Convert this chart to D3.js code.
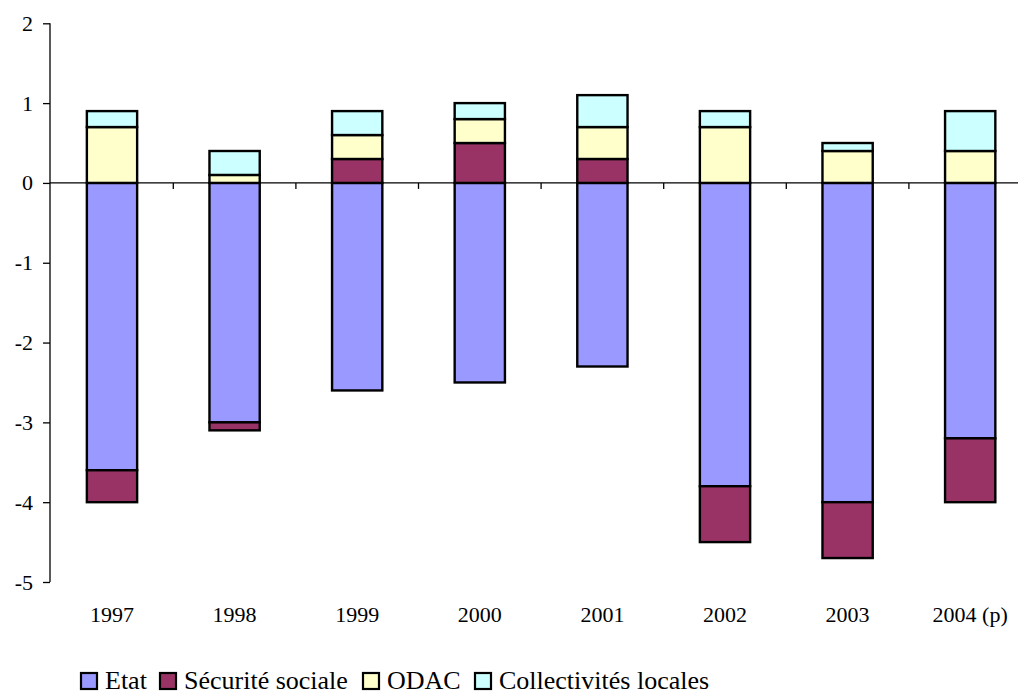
<!DOCTYPE html>
<html><head><meta charset="utf-8">
<script src="https://cdn.jsdelivr.net/npm/d3@7/dist/d3.min.js"></script>
</head><body style="margin:0">
<svg id="c" width="1018" height="695"></svg>
<script>
const years = ["1997","1998","1999","2000","2001","2002","2003","2004 (p)"];
const seriesNames = ["Etat","Sécurité sociale","ODAC","Collectivités locales"];
const etat = [-3.6,-3.0,-2.6,-2.5,-2.3,-3.8,-4.0,-3.2];
const secu = [-0.4,-0.1,0.3,0.5,0.3,-0.7,-0.7,-0.8];
const odac = [0.7,0.1,0.3,0.3,0.4,0.7,0.4,0.4];
const coll = [0.2,0.3,0.3,0.2,0.4,0.2,0.1,0.5];
const yTicks = [-5,-4,-3,-2,-1,0,1,2];
const colors = ["#9999FF","#993366","#FFFFCC","#CCFFFF"];
const FONT = "Liberation Serif";

const rows = years.map((y,i)=>({year:y,"Etat":etat[i],"Sécurité sociale":secu[i],"ODAC":odac[i],"Collectivités locales":coll[i]}));
const stack = d3.stack().keys(seriesNames).offset(d3.stackOffsetDiverging)(rows);

const svg = d3.select("#c");
const x = d3.scaleBand().domain(years).range([50.7,1031.5]).paddingInner(0.59).paddingOuter(0.295);
const y = d3.scaleLinear().domain([-5,2]).range([582,23.3]);

// bars
svg.append("g").selectAll("g").data(stack).join("g")
  .attr("fill",(d,i)=>colors[i])
  .selectAll("rect").data(d=>d).join("rect")
  .attr("x",d=>x(d.data.year))
  .attr("width",x.bandwidth())
  .attr("y",d=>y(Math.max(d[0],d[1])))
  .attr("height",d=>Math.abs(y(d[0])-y(d[1])))
  .attr("stroke","#000").attr("stroke-width",2.4);

// y axis (lines via d3 axis, labels drawn separately)
const yAxis = d3.axisLeft(y).tickValues(yTicks).tickSize(7).tickFormat("");
const ga = svg.append("g").attr("transform","translate(50,0)").call(yAxis);
ga.select(".domain").attr("stroke","#000").attr("stroke-width",1.3).attr("d","M0,"+y(2)+"V"+y(-5));
ga.selectAll(".tick line").attr("stroke","#000").attr("stroke-width",1.3);
ga.selectAll(".tick text").remove();

svg.selectAll(".ylab").data(yTicks).join("text")
  .attr("x",33).attr("y",d=>y(d)+7.5)
  .attr("text-anchor","end").attr("font-size",22).attr("font-family",FONT).attr("fill","#000")
  .text(d=>String(d));

// x axis at zero
const step = x.step();
const gx = svg.append("g").attr("transform","translate(0,"+y(0)+")");
gx.append("line").attr("x1",50).attr("x2",1031).attr("stroke","#000").attr("stroke-width",1.3);
gx.selectAll(".tk").data(years.slice(1)).join("line")
  .attr("x1",d=>x(d)+x.bandwidth()/2-step/2).attr("x2",d=>x(d)+x.bandwidth()/2-step/2)
  .attr("y1",0).attr("y2",6).attr("stroke","#000").attr("stroke-width",1.3);

svg.selectAll(".xlab").data(years).join("text")
  .attr("x",d=>x(d)+x.bandwidth()/2).attr("y",622)
  .attr("text-anchor","middle").attr("font-size",22).attr("font-family",FONT).attr("fill","#000").text(d=>d);

// legend
const legX = [81,160,363,475];
seriesNames.forEach((s,i)=>{
  svg.append("rect").attr("x",legX[i]).attr("y",673).attr("width",16).attr("height",16)
    .attr("fill",colors[i]).attr("stroke","#000").attr("stroke-width",2.2);
  svg.append("text").attr("x",legX[i]+24).attr("y",689).attr("font-size",26).attr("font-family",FONT).attr("fill","#000").text(s);
});
</script>
</body></html>
